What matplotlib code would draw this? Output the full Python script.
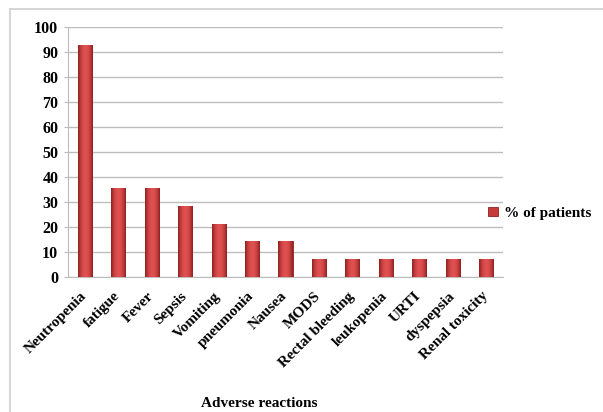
import matplotlib
matplotlib.use("Agg")
import matplotlib.pyplot as plt
from matplotlib.lines import Line2D
import matplotlib.transforms as mtransforms
import numpy as np

categories = ["Neutropenia", "fatigue", "Fever", "Sepsis", "Vomiting", "pneumonia",
              "Nausea", "MODS", "Rectal bleeding", "leukopenia", "URTI", "dyspepsia",
              "Renal toxicity"]
values = [92.9, 35.7, 35.7, 28.6, 21.4, 14.3, 14.3, 7.1, 7.1, 7.1, 7.1, 7.1, 7.1]
series_name = "% of patients"
yticks = list(range(0, 101, 10))

plt.rcParams['font.family'] = ['Liberation Serif', 'DejaVu Serif']
plt.rcParams['font.weight'] = 'bold'

fig = plt.figure(figsize=(6.03, 4.12), dpi=100)
ax = fig.add_axes([68/603, 1-277/412, (503-68)/603, (277-27)/412])

x = np.arange(len(categories))
bars = ax.bar(x, values, width=0.42, color="#C63A3A", edgecolor="#8E1F1F",
              linewidth=0.6, label=series_name, zorder=3)

# cylinder-like shading
grad = np.linspace(-1, 1, 64)
shade = 1 - grad**2
cmap = matplotlib.colors.LinearSegmentedColormap.from_list("r", ["#8E1F1F", "#E05050"])
for b in bars:
    im = ax.imshow(shade[np.newaxis, :], extent=[b.get_x(), b.get_x()+b.get_width(), 0, b.get_height()],
                   aspect='auto', cmap=cmap, zorder=3.5)
    im.set_clip_path(b)

ax.set_xlim(-0.5, len(categories)-0.5)
ax.set_ylim(0, 100)
ax.set_yticks(yticks)
ax.yaxis.grid(True, color="#BDBDBD", linewidth=1.0, zorder=0)
ax.set_axisbelow(True)
for s in ["top", "right"]:
    ax.spines[s].set_visible(False)
ax.spines["left"].set_color("#BDBDBD")
ax.spines["bottom"].set_color("#BDBDBD")
ax.tick_params(axis='y', length=3, color="#BDBDBD", labelsize=11.5, pad=4)
ax.tick_params(axis='x', length=0, labelsize=11, pad=9)
ax.set_xticks(x)
ax.set_xticklabels(categories, rotation=45, ha='right', rotation_mode='anchor')
offset = mtransforms.ScaledTranslation(-5/100, 0, fig.dpi_scale_trans)
for lbl in ax.get_xticklabels():
    lbl.set_transform(lbl.get_transform() + offset)
ax.set_xlabel("Adverse reactions", fontsize=11, fontweight='bold', labelpad=0)
ax.xaxis.label.set_va('center')
ax.xaxis.set_label_coords(0.44, -0.505)

leg = ax.legend(loc='center left', bbox_to_anchor=(0.935, 0.255), frameon=False,
                fontsize=11, handlelength=0.6, handleheight=0.6, handletextpad=0.4)

fig.add_artist(Line2D([10/603, 10/603], [0, 1-9/412], color="#D0D0D0", linewidth=1.2,
                      transform=fig.transFigure))
fig.add_artist(Line2D([10/603, 1], [1-9/412, 1-9/412], color="#D0D0D0", linewidth=1.2,
                      transform=fig.transFigure))

fig.savefig("out.png", dpi=100)
